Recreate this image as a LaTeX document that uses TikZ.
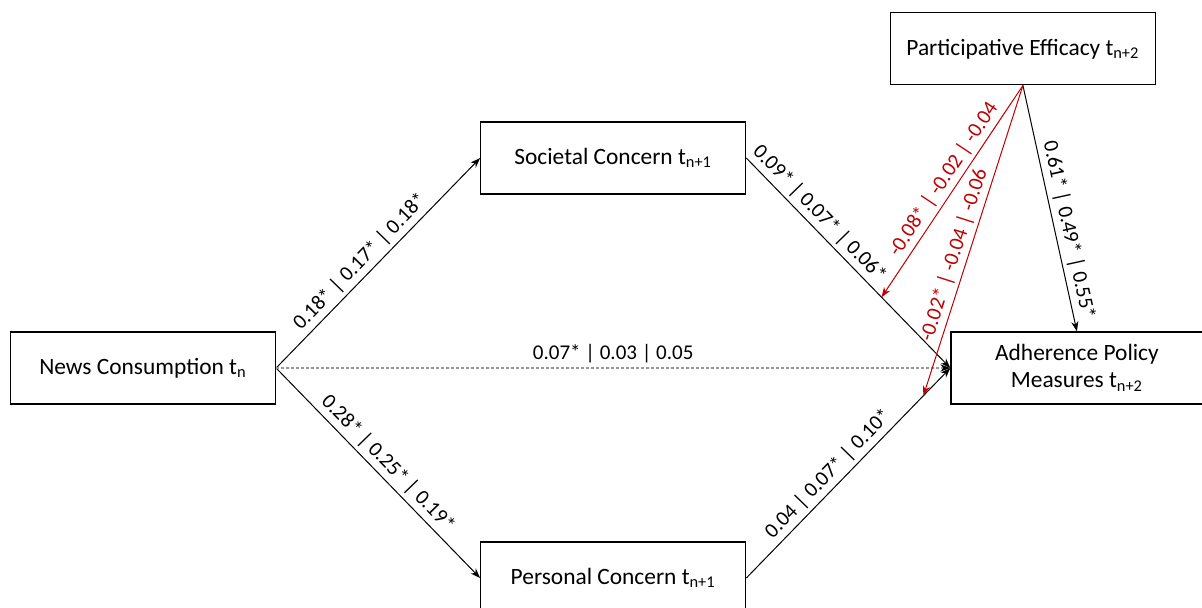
\documentclass[tikz,border=0pt]{standalone}
\usepackage{fontspec}
\setmainfont{Carlito}
\usetikzlibrary{arrows.meta,positioning}
\definecolor{effred}{RGB}{192,0,0}

\begin{document}
\begin{tikzpicture}[
            x=0.5pt, y=-0.5pt,
            node distance=52.5pt and 102pt,
            box/.style={draw, line width=0.6pt, minimum width=132.5pt, minimum height=36pt, inner sep=2pt, font=\fontsize{11.7}{13.5}\selectfont},
            coef/.style={sloped, above, inner sep=2pt, font=\fontsize{10.5}{12}\selectfont},
            link/.style={-{Stealth[length=5pt, width=3.6pt]}, line width=0.5pt},
            dotlink/.style={-{Stealth[length=5pt, width=3.6pt, black]}, line width=0.6pt, gray!80, dash pattern=on 1.5pt off 1pt}
          ]

          \useasboundingbox (0,0) rectangle (1202,607);

          % Nodes
          \node[box] (news) at (143,368) {News Consumption t\textsubscript{n}};
          \node[box, right=of news, yshift=105pt] (soc) {Societal Concern t\textsubscript{n+1}};
          \node[box, right=of news, yshift=-105pt] (pers) {Personal Concern t\textsubscript{n+1}};
          \node[box, minimum width=126pt, align=center, right=of soc, yshift=-105pt] (adh) {Adherence Policy\\Measures t\textsubscript{n+2}};
          \node[box, above=123pt of adh, xshift=-27pt] (part) {Participative Efficacy t\textsubscript{n+2}};

          % Edges
          \draw[link] (news.east) -- node[coef, pos=0.46] {0.18* | 0.17* | 0.18*} (soc.west);
          \draw[link] (news.east) -- node[coef, pos=0.5] {0.28* | 0.25* | 0.19*} (pers.west);
          \draw[link] (soc.east) -- node[coef, pos=0.31] {0.09* | 0.07* | 0.06*} coordinate[pos=0.663] (m1) (adh.west);
          \draw[link] (pers.east) -- node[coef, pos=0.45] {0.04 | 0.07* | 0.10*} coordinate[pos=0.868] (m2) (adh.west);
          \draw[dotlink] (news.east) -- node[coef, black] {0.07* | 0.03 | 0.05} (adh.west);
          \draw[link] (part.south) -- node[coef, pos=0.6] {0.61* | 0.49* | 0.55*} (adh.north);

          % Moderation
          \draw[link, effred] (part.south) -- node[coef, pos=0.48] {-0.08* | -0.02 | -0.04} (m1);
          \draw[link, effred] (part.south) -- node[coef, pos=0.56] {-0.02* | -0.04 | -0.06} (m2);

        \end{tikzpicture}
\end{document}
